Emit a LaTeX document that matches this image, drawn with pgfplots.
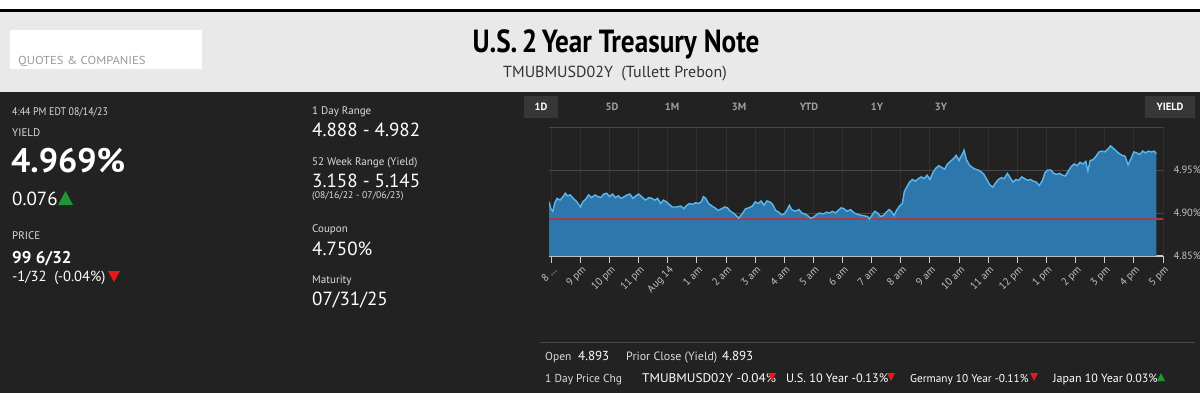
\documentclass[border=0pt]{standalone}
\usepackage{fontspec}
\setmainfont{PT Sans}
\usepackage{pgfplots}
\usepackage{pgfplotstable}
\pgfplotsset{compat=1.18}

\definecolor{bgdark}{RGB}{34,34,34}
\definecolor{hdrgray}{RGB}{233,233,233}
\definecolor{areafill}{RGB}{45,119,172}
\definecolor{linecol}{RGB}{90,184,240}
\definecolor{prior}{RGB}{168,58,76}
\definecolor{gridc}{RGB}{72,72,72}
\definecolor{vgrid}{RGB}{48,48,48}
\definecolor{ticklab}{RGB}{195,195,195}
\definecolor{lbl}{RGB}{220,220,220}
\definecolor{tabgray}{RGB}{160,160,160}
\definecolor{tabbox}{RGB}{55,55,55}
\definecolor{upgreen}{RGB}{30,150,50}
\definecolor{downred}{RGB}{230,25,30}
\newcommand{\fs}[1]{\fontsize{#1}{#1}\selectfont}

\pgfplotstableread{
h v
-0.08 4.913
-0.02 4.905
0.05 4.902
0.12 4.912
0.2 4.917
0.3 4.915
0.4 4.919
0.48 4.923
0.55 4.920
0.65 4.921
0.75 4.917
0.85 4.914
0.94 4.910
1.0 4.907
1.08 4.913
1.18 4.916
1.28 4.921
1.38 4.918
1.5 4.921
1.6 4.919
1.7 4.918
1.8 4.922
1.9 4.923
2.0 4.919
2.1 4.922
2.2 4.918
2.3 4.920
2.4 4.917
2.5 4.919
2.6 4.921
2.7 4.922
2.8 4.917
2.9 4.920
3.0 4.922
3.1 4.919
3.23 4.915
3.35 4.918
3.45 4.917
3.55 4.915
3.65 4.917
3.75 4.911
3.85 4.915
3.95 4.913
4.05 4.910
4.15 4.907
4.3 4.907
4.45 4.908
4.55 4.905
4.65 4.909
4.75 4.911
4.85 4.910
4.95 4.912
5.05 4.911
5.15 4.913
5.22 4.919
5.3 4.917
5.4 4.911
5.52 4.908
5.62 4.906
5.72 4.903
5.85 4.905
5.95 4.907
6.05 4.906
6.15 4.902
6.25 4.900
6.35 4.897
6.43 4.894
6.55 4.899
6.67 4.905
6.78 4.906
6.9 4.908
7.0 4.913
7.1 4.911
7.2 4.914
7.3 4.909
7.4 4.914
7.5 4.913
7.6 4.910
7.7 4.903
7.81 4.901
7.9 4.898
8.0 4.899
8.1 4.904
8.17 4.909
8.25 4.904
8.38 4.902
8.5 4.904
8.6 4.900
8.7 4.899
8.8 4.897
8.9 4.894
9.0 4.895
9.1 4.898
9.2 4.900
9.35 4.899
9.45 4.901
9.55 4.900
9.65 4.902
9.75 4.900
9.85 4.903
9.95 4.906
10.05 4.905
10.15 4.902
10.27 4.904
10.4 4.900
10.55 4.898
10.7 4.897
10.85 4.896
10.92 4.893
11.0 4.897
11.1 4.902
11.2 4.900
11.3 4.896
11.4 4.897
11.5 4.901
11.6 4.904
11.7 4.901
11.76 4.897
11.85 4.903
11.95 4.908
12.05 4.911
12.12 4.925
12.2 4.930
12.3 4.936
12.4 4.939
12.5 4.937
12.6 4.940
12.7 4.942
12.8 4.940
12.9 4.944
13.0 4.939
13.1 4.947
13.2 4.952
13.3 4.955
13.4 4.953
13.5 4.951
13.6 4.957
13.7 4.960
13.8 4.963
13.9 4.967
14.0 4.961
14.05 4.965
14.12 4.969
14.17 4.973
14.25 4.962
14.35 4.956
14.45 4.953
14.55 4.951
14.65 4.950
14.75 4.948
14.85 4.945
14.95 4.939
15.05 4.933
15.15 4.930
15.25 4.935
15.35 4.939
15.45 4.941
15.55 4.940
15.66 4.946
15.75 4.941
15.85 4.936
15.95 4.939
16.05 4.938
16.15 4.942
16.25 4.940
16.35 4.938
16.45 4.939
16.55 4.937
16.65 4.936
16.75 4.932
16.85 4.937
16.95 4.947
17.05 4.950
17.15 4.950
17.25 4.946
17.35 4.945
17.45 4.946
17.55 4.944
17.65 4.943
17.75 4.949
17.85 4.954
17.95 4.957
18.05 4.955
18.15 4.959
18.25 4.957
18.35 4.960
18.42 4.949
18.5 4.961
18.6 4.962
18.7 4.966
18.8 4.971
18.9 4.972
19.0 4.971
19.1 4.974
19.2 4.978
19.3 4.975
19.4 4.972
19.5 4.969
19.6 4.967
19.7 4.966
19.8 4.956
19.9 4.963
20.0 4.971
20.1 4.970
20.2 4.968
20.3 4.972
20.4 4.970
20.5 4.972
20.6 4.971
20.7 4.972
20.77 4.969
}\yielddata

\begin{document}
\begin{tikzpicture}
\useasboundingbox (0pt,0pt) rectangle (1200pt,-393pt);
% backgrounds
\fill[white] (0pt,0pt) rectangle (1200pt,-393pt);
\fill[black] (0pt,-9pt) rectangle (1200pt,-12.5pt);
\fill[hdrgray] (0pt,-12.5pt) rectangle (1200pt,-92pt);
\fill[bgdark] (0pt,-92pt) rectangle (1200pt,-393pt);
% header
\fill[white] (10pt,-30pt) rectangle (202pt,-69pt);
\node[anchor=base west, inner sep=0, text=black!40] at (18pt,-65pt) {\scalebox{1.1}[1]{\fs{11.5}QUOTES \& COMPANIES}};
\node[anchor=base, inner sep=0, text=black] at (616pt,-53pt) {\scalebox{0.85}[1]{\bfseries\fs{32}U.S.\,2\,Year Treasury Note}};
\node[anchor=base, inner sep=0, text=black!80] at (615pt,-78pt) {\fs{16}TMUBMUSD02Y\ \ (Tullett Prebon)};
% left panel
\node[anchor=base west, inner sep=0, text=lbl] at (12pt,-116pt) {\scalebox{0.9}[1]{\fs{11}4:44 PM EDT 08/14/23}};
\node[anchor=base west, inner sep=0, text=lbl] at (12pt,-137pt) {\fs{11}YIELD};
\node[anchor=base west, inner sep=0, text=white] at (11pt,-172pt) {\bfseries\fs{34}4.969\%};
\node[anchor=base west, inner sep=0, text=white] at (12pt,-205pt) {\fs{19}0.076};
\fill[upgreen] (58pt,-205pt) -- (73pt,-205pt) -- (65.5pt,-191pt) -- cycle;
\node[anchor=base west, inner sep=0, text=lbl] at (12pt,-240pt) {\fs{11}PRICE};
\node[anchor=base west, inner sep=0, text=white] at (12pt,-263pt) {\bfseries\fs{17}99 6/32};
\node[anchor=base west, inner sep=0, text=white] at (12pt,-281pt) {\fs{14.6}-1/32\ \ (-0.04\%)};
\fill[downred] (108pt,-271pt) -- (120pt,-271pt) -- (114pt,-282pt) -- cycle;
% middle panel
\node[anchor=base west, inner sep=0, text=lbl] at (312pt,-115pt) {\fs{11}1 Day Range};
\node[anchor=base west, inner sep=0, text=white] at (312pt,-137pt) {\fs{19}4.888 - 4.982};
\node[anchor=base west, inner sep=0, text=lbl] at (312pt,-166pt) {\fs{11}52 Week Range (Yield)};
\node[anchor=base west, inner sep=0, text=white] at (312pt,-187pt) {\fs{19}3.158 - 5.145};
\node[anchor=base west, inner sep=0, text=lbl] at (312pt,-198pt) {\fs{9.7}(08/16/22 - 07/06/23)};
\node[anchor=base west, inner sep=0, text=lbl] at (312pt,-233pt) {\fs{11}Coupon};
\node[anchor=base west, inner sep=0, text=white] at (312pt,-255pt) {\fs{19}4.750\%};
\node[anchor=base west, inner sep=0, text=lbl] at (312pt,-283pt) {\fs{11}Maturity};
\node[anchor=base west, inner sep=0, text=white] at (312pt,-305pt) {\fs{19}07/31/25};
% tabs
\fill[tabbox] (524pt,-96pt) rectangle (558pt,-118pt);
\node[text=white, inner sep=0] at (541pt,-107pt) {\bfseries\fs{10.5}1D};
\node[text=tabgray, inner sep=0] at (612pt,-107pt) {\bfseries\fs{10.5}5D};
\node[text=tabgray, inner sep=0] at (672pt,-107pt) {\bfseries\fs{10.5}1M};
\node[text=tabgray, inner sep=0] at (739pt,-107pt) {\bfseries\fs{10.5}3M};
\node[text=tabgray, inner sep=0] at (809pt,-107pt) {\bfseries\fs{10.5}YTD};
\node[text=tabgray, inner sep=0] at (877pt,-107pt) {\bfseries\fs{10.5}1Y};
\node[text=tabgray, inner sep=0] at (941pt,-107pt) {\bfseries\fs{10.5}3Y};
\fill[tabbox] (1145pt,-96pt) rectangle (1195pt,-118pt);
\node[text=white, inner sep=0] at (1170pt,-107pt) {\bfseries\fs{10.5}YIELD};
% chart
\begin{axis}[
  at={(549pt,-256pt)}, anchor=south west,
  scale only axis, width=614pt, height=129pt,
  xmin=-0.08, xmax=21, ymin=4.85, ymax=5.0,
  axis x line*=bottom, axis y line*=right,
  x axis line style={draw=ticklab!85, line width=1.6pt},
  y axis line style={draw=none},
  xtick={0,1,2,3,4,5,6,7,8,9,10,11,12,13,14,15,16,17,18,19,20,21},
  xticklabels={{8 \dots},9 pm,10 pm,11 pm,Aug 14,1 am,2 am,3 am,4 am,5 am,6 am,7 am,8 am,9 am,10 am,11 am,12 pm,1 pm,2 pm,3 pm,4 pm,5 pm},
  tick align=outside, major tick length=7pt,
  x tick style={draw=ticklab!85, line width=1pt},
  y tick style={draw=none},
  xticklabel style={rotate=45, anchor=north east, font=\fs{10.5}, text=ticklab, inner sep=1pt, yshift=-1pt},
  ytick={4.85,4.9,4.95},
  yticklabel={\pgfmathprintnumber[fixed,fixed zerofill,precision=2]{\tick}\%},
  yticklabel style={anchor=west, font=\fs{10.5}, text=ticklab},
  /pgf/number format/assume math mode=true,
  xmajorgrids, ymajorgrids,
  x grid style={vgrid, line width=1pt},
  y grid style={gridc, line width=1pt},
]
\addplot[gridc, line width=1pt] coordinates {(-0.08,5.0) (21,5.0)};
\addplot[fill=areafill, draw=none] table[x=h,y=v] {\yielddata} \closedcycle;
\addplot[prior, line width=1.3pt] coordinates {(-0.08,4.893) (21,4.893)};
\addplot[linecol, line width=1.4pt] table[x=h,y=v] {\yielddata};
\end{axis}
% bottom strip
\draw[gridc, line width=1pt] (540pt,-342pt) -- (1195pt,-342pt);
\node[anchor=base west, inner sep=0, text=lbl] at (545pt,-360pt) {\fs{11.5}Open};
\node[anchor=base west, inner sep=0, text=white] at (578pt,-360pt) {\fs{13}4.893};
\node[anchor=base west, inner sep=0, text=lbl] at (626pt,-360pt) {\fs{12}Prior Close (Yield)};
\node[anchor=base west, inner sep=0, text=white] at (722pt,-360pt) {\fs{13}4.893};
\node[anchor=base west, inner sep=0, text=lbl] at (545pt,-382pt) {\fs{11.5}1 Day Price Chg};
\node[anchor=base west, inner sep=0, text=white] at (642pt,-382pt) {\scalebox{1.06}[1]{\fs{12.5}TMUBMUSD02Y -0.04\%}};
\fill[downred] (768pt,-373pt) -- (776pt,-373pt) -- (772pt,-381pt) -- cycle;
\node[anchor=base west, inner sep=0, text=white] at (786pt,-382pt) {\fs{12.3}U.S. 10 Year -0.13\%};
\fill[downred] (887pt,-373pt) -- (895pt,-373pt) -- (891pt,-381pt) -- cycle;
\node[anchor=base west, inner sep=0, text=white] at (910pt,-382pt) {\fs{11.3}Germany 10 Year -0.11\%};
\fill[downred] (1030pt,-373pt) -- (1038pt,-373pt) -- (1034pt,-381pt) -- cycle;
\node[anchor=base west, inner sep=0, text=white] at (1053pt,-382pt) {\fs{12}Japan 10 Year 0.03\%};
\fill[upgreen] (1157pt,-381pt) -- (1165pt,-381pt) -- (1161pt,-373pt) -- cycle;
\end{tikzpicture}
\end{document}
